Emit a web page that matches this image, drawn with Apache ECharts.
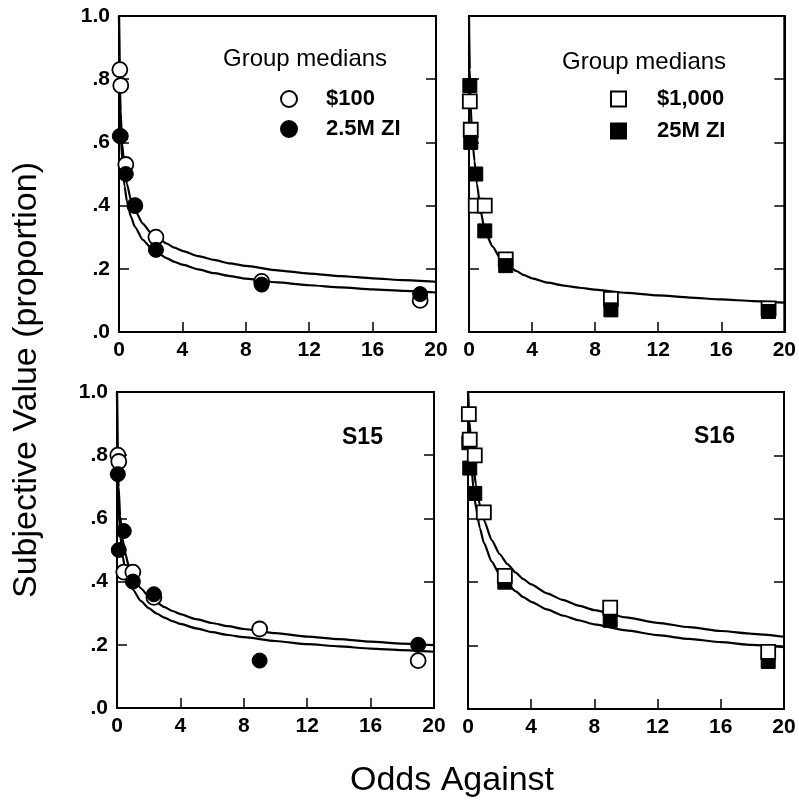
<!DOCTYPE html>
<html>
<head>
<meta charset="utf-8">
<script src="https://cdn.jsdelivr.net/npm/echarts@6/dist/echarts.min.js"></script>
<style>
  html, body { margin: 0; padding: 0; background: #fff; }
  #chart { width: 799px; height: 801px; }
</style>
</head>
<body>
<div id="chart"></div>
<script>
// odds against for each probability
var odds = [0.053, 0.111, 0.429, 1, 2.33, 9, 19];

// group medians (top row)
var grp100 = [0.83, 0.78, 0.53, 0.40, 0.30, 0.16, 0.10];
var grp25zi = [0.62, 0.62, 0.50, 0.40, 0.26, 0.15, 0.12];
var grp1000 = [0.73, 0.64, 0.40, 0.40, 0.23, 0.105, 0.075];
var grp25mzi = [0.78, 0.60, 0.50, 0.32, 0.21, 0.07, 0.065];

// single subjects (bottom row)
var s15_100 = [0.80, 0.78, 0.43, 0.43, 0.35, 0.25, 0.15];
var s15_25zi = [0.74, 0.50, 0.56, 0.40, 0.36, 0.15, 0.20];
var s16_1000 = [0.93, 0.85, 0.80, 0.62, 0.42, 0.32, 0.18];
var s16_25mzi = [0.84, 0.76, 0.68, 0.62, 0.40, 0.28, 0.15];

// fitted curves
var curveX = [0, 0.05, 0.1, 0.2, 0.35, 0.5, 0.75, 1, 1.5, 2, 2.5, 3, 3.5, 4, 5, 6, 7, 8, 10, 12, 14, 16, 18, 20];
var tlUpper = [1, 0.795, 0.699, 0.596, 0.516, 0.469, 0.418, 0.386, 0.343, 0.315, 0.295, 0.280, 0.267, 0.257, 0.240, 0.228, 0.217, 0.209, 0.195, 0.185, 0.177, 0.170, 0.164, 0.159];
var tlLower = [1, 0.754, 0.649, 0.542, 0.461, 0.414, 0.365, 0.333, 0.292, 0.267, 0.248, 0.234, 0.222, 0.213, 0.198, 0.186, 0.177, 0.169, 0.157, 0.148, 0.141, 0.135, 0.130, 0.125];
var trCurve = [1, 0.83, 0.72, 0.62, 0.54, 0.47, 0.38, 0.32, 0.27, 0.232, 0.21, 0.193, 0.18, 0.17, 0.156, 0.147, 0.140, 0.134, 0.124, 0.116, 0.109, 0.103, 0.098, 0.093];
var blUpper = [1, 0.788, 0.699, 0.607, 0.536, 0.493, 0.448, 0.418, 0.379, 0.353, 0.334, 0.319, 0.307, 0.297, 0.281, 0.269, 0.259, 0.250, 0.237, 0.226, 0.218, 0.210, 0.204, 0.199];
var blLower = [1, 0.732, 0.640, 0.550, 0.483, 0.444, 0.402, 0.375, 0.339, 0.316, 0.299, 0.286, 0.275, 0.266, 0.252, 0.240, 0.231, 0.224, 0.212, 0.202, 0.195, 0.188, 0.183, 0.178];
var brUpper = [1, 0.947, 0.904, 0.835, 0.762, 0.708, 0.644, 0.597, 0.533, 0.489, 0.457, 0.431, 0.410, 0.393, 0.365, 0.344, 0.326, 0.312, 0.289, 0.272, 0.258, 0.246, 0.237, 0.228];
var brLower = [1, 0.921, 0.862, 0.777, 0.693, 0.636, 0.571, 0.525, 0.465, 0.424, 0.395, 0.372, 0.353, 0.338, 0.314, 0.295, 0.280, 0.267, 0.248, 0.233, 0.221, 0.211, 0.202, 0.195];

var FONT = '"Liberation Sans", Arial, Helvetica, sans-serif';

function pairs(xs, ys) {
    return xs.map(function (x, i) { return [x, ys[i]]; });
}

var grids = [
    {left: 119, top: 16, width: 317, height: 316},
    {left: 469, top: 16, width: 317, height: 316},
    {left: 117, top: 392, width: 317, height: 316},
    {left: 468, top: 392, width: 316, height: 317}
];

var xAxes = [], yAxes = [];
grids.forEach(function (g, i) {
    g.show = true;
    g.borderColor = '#000';
    g.borderWidth = 2;
    xAxes.push({
        gridIndex: i, type: 'value', min: 0, max: 20, interval: 4,
        axisLine: {show: true, lineStyle: {color: '#000', width: 2}},
        axisTick: {show: true, inside: true, length: 10, lineStyle: {color: '#000', width: 1.5}},
        axisLabel: {color: '#000', fontSize: 21, fontWeight: 'bold', fontFamily: FONT, margin: 8},
        splitLine: {show: false}
    });
    // left y axis
    yAxes.push({
        gridIndex: i, type: 'value', min: 0, max: 1, interval: 0.2, position: 'left',
        axisLine: {show: true, lineStyle: {color: '#000', width: 2}},
        axisTick: {show: true, inside: true, length: 10, lineStyle: {color: '#000', width: 1.5}},
        axisLabel: {
            show: i % 2 === 0, color: '#000', fontSize: 21, fontWeight: 'bold', fontFamily: FONT, margin: 9,
            formatter: function (v) { return v === 1 ? '1.0' : '.' + Math.round(v * 10); }
        },
        splitLine: {show: false}
    });
    // right y axis, ticks only
    yAxes.push({
        gridIndex: i, type: 'value', min: 0, max: 1, interval: 0.2, position: 'right',
        axisLine: {show: true, lineStyle: {color: '#000', width: 2}},
        axisTick: {show: true, inside: true, length: 10, lineStyle: {color: '#000', width: 1.5}},
        axisLabel: {show: false},
        splitLine: {show: false}
    });
});

function curve(i, ys) {
    return {
        type: 'line', xAxisIndex: i, yAxisIndex: i * 2, data: pairs(curveX, ys),
        showSymbol: false, smooth: 0.2, smoothMonotone: 'x', silent: true, z: 2,
        lineStyle: {color: '#000', width: 2.2}
    };
}

function points(i, name, ys, symbol, open, z) {
    return {
        type: 'scatter', name: name, xAxisIndex: i, yAxisIndex: i * 2,
        data: pairs(odds, ys), symbol: symbol, symbolSize: symbol === 'circle' ? 15 : 14, z: z,
        itemStyle: open ? {color: '#fff', borderColor: '#000', borderWidth: 1.8, opacity: 1}
                        : {color: '#000', borderColor: '#000', borderWidth: 1, opacity: 1}
    };
}

var series = [
    curve(0, tlUpper), curve(0, tlLower),
    points(0, '$100', grp100, 'circle', true, 3),
    points(0, '2.5M ZI', grp25zi, 'circle', false, 4),

    curve(1, trCurve),
    points(1, '$1,000', grp1000, 'rect', true, 3),
    points(1, '25M ZI', grp25mzi, 'rect', false, 4),

    curve(2, blUpper), curve(2, blLower),
    points(2, 'S15 $100', s15_100, 'circle', true, 3),
    points(2, 'S15 2.5M ZI', s15_25zi, 'circle', false, 4),

    curve(3, brUpper), curve(3, brLower),
    points(3, 'S16 25M ZI', s16_25mzi, 'rect', false, 3),
    points(3, 'S16 $1,000', s16_1000, 'rect', true, 4)
];

var legendText = {color: '#000', fontSize: 22, fontWeight: 'bold', fontFamily: FONT};

var option = {
    animation: false,
    backgroundColor: '#fff',
    grid: grids,
    xAxis: xAxes,
    yAxis: yAxes,
    title: [
        {text: 'Group medians', left: 223, top: 47, padding: 0,
            textStyle: {color: '#000', fontSize: 24, fontWeight: 'normal', fontFamily: FONT}},
        {text: 'Group medians', left: 562, top: 50, padding: 0,
            textStyle: {color: '#000', fontSize: 24, fontWeight: 'normal', fontFamily: FONT}},
        {text: 'S15', left: 342, top: 426, padding: 0,
            textStyle: {color: '#000', fontSize: 23, fontWeight: 'bold', fontFamily: FONT}},
        {text: 'S16', left: 694, top: 425, padding: 0,
            textStyle: {color: '#000', fontSize: 23, fontWeight: 'bold', fontFamily: FONT}}
    ],
    legend: [
        {data: ['$100', '2.5M ZI'], orient: 'vertical', left: 280, top: 88, padding: 0,
            itemWidth: 16, itemHeight: 16, itemGap: 8, selectedMode: false,
            textStyle: Object.assign({padding: [0, 0, 0, 24]}, legendText)},
        {data: ['$1,000', '25M ZI'], orient: 'vertical', left: 610, top: 88, padding: 0,
            itemWidth: 15, itemHeight: 15, itemGap: 10, selectedMode: false,
            textStyle: Object.assign({padding: [0, 0, 0, 26]}, legendText)}
    ],
    graphic: [
        {type: 'text', x: 27, y: 380, rotation: Math.PI / 2, silent: true,
            style: {text: 'Subjective Value (proportion)', fill: '#000', fontSize: 34, fontFamily: FONT,
                align: 'center', verticalAlign: 'middle'}},
        {type: 'text', x: 452, y: 781, silent: true,
            style: {text: 'Odds Against', fill: '#000', fontSize: 34, fontFamily: FONT,
                align: 'center', verticalAlign: 'middle'}}
    ],
    series: series
};

var myChart = echarts.init(document.getElementById('chart'));
myChart.setOption(option);
</script>
</body>
</html>
